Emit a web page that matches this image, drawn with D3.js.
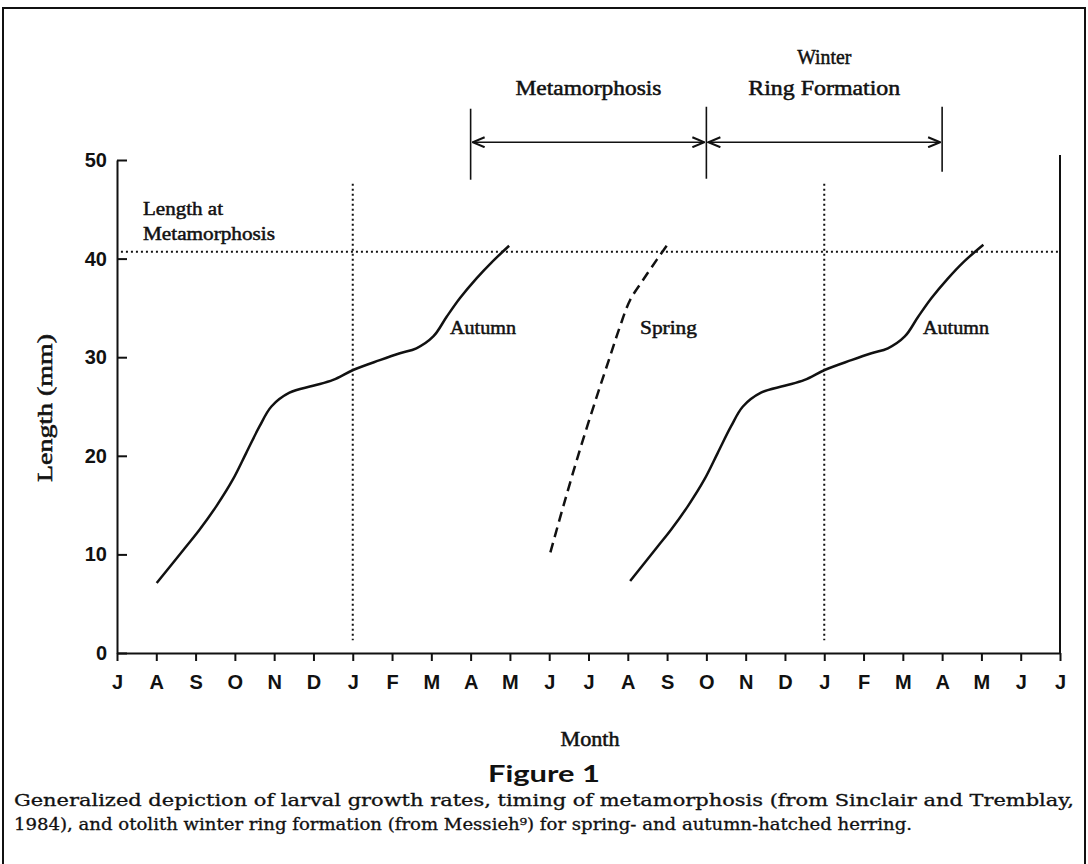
<!DOCTYPE html>
<html>
<head>
<meta charset="utf-8">
<script src="https://cdn.jsdelivr.net/npm/d3@7"></script>
<style>
  body { margin: 0; background: #fff; }
  svg { display: block; }
  .serif { font-family: "Liberation Serif", "Times New Roman", serif; fill: #111; stroke: #111; stroke-width: 0.5px; }
  .axis text { font-family: "Liberation Sans", Arial, sans-serif; font-weight: bold; font-size: 20px; fill: #111; }
  .axis path, .axis line { stroke: #111; stroke-width: 2px; }
</style>
</head>
<body>
<script>
// chart size
var width = 1088,
    height = 864;

// month tick labels, J(uly) to J(uly) two years later
var monthLabels = ["J","A","S","O","N","D","J","F","M","A","M","J",
                   "J","A","S","O","N","D","J","F","M","A","M","J","J"];
var lengthTicks = [0, 10, 20, 30, 40, 50];

// autumn-hatched larvae, first year (month index, length mm)
var autumn1Month = [1.01, 1.76, 2.10, 2.53, 2.95, 3.29, 3.63, 3.93, 4.39, 4.99, 5.50,
                    6.01, 6.69, 7.20, 7.62, 8.05, 8.39, 8.73, 9.15, 9.53, 9.98];
var autumn1Len   = [7.1, 10.8, 12.5, 14.9, 17.6, 20.3, 23.0, 25.0, 26.4, 27.1, 27.7,
                    28.7, 29.7, 30.4, 30.9, 32.1, 34.1, 36.0, 38.0, 39.6, 41.3];

// autumn-hatched larvae, second year
var autumn2Month = [13.06, 13.76, 14.10, 14.53, 14.95, 15.29, 15.63, 15.93, 16.39, 16.99, 17.50,
                    18.01, 18.69, 19.20, 19.62, 20.05, 20.39, 20.73, 21.15, 21.53, 22.05];
var autumn2Len   = [7.3, 10.8, 12.5, 14.9, 17.6, 20.3, 23.0, 25.0, 26.4, 27.1, 27.7,
                    28.7, 29.7, 30.4, 30.9, 32.1, 34.1, 36.0, 38.0, 39.6, 41.4];

// spring-hatched larvae (dashed)
var springMonth = [11.03, 11.36, 11.78, 12.21, 12.55, 12.80, 13.06, 13.40, 13.74, 13.99];
var springLen   = [10.2, 14.9, 20.6, 26.0, 30.1, 33.1, 35.8, 37.9, 39.9, 41.3];

// reference lines
var metaLength = 40.7;          // length at metamorphosis
var januaryMonths = [6, 18];    // vertical dotted lines
var januaryRange = [1.3, 47.6];

// periods shown above the plot
var periodStart = [9, 15];
var periodEnd   = [15, 21];
var periodLabels = [["Metamorphosis"], ["Winter", "Ring Formation"]];
var periodTops = [55.2, 55.4, 55.4];
var periodBottoms = [48.0, 48.1, 48.8];
var arrowLevel = 51.8;

// scales
var x = d3.scaleLinear().domain([0, 24]).range([117, 1060]);
var y = d3.scaleLinear().domain([0, 50]).range([653, 160]);

var svg = d3.select("body").append("svg")
    .attr("width", width)
    .attr("height", height);

// outer frame of the figure
svg.append("path")
    .attr("d", "M3,880 L3,8 L1085,8 L1085,880")
    .attr("fill", "none")
    .attr("stroke", "#111")
    .attr("stroke-width", 2);

// arrow heads (open chevrons)
svg.append("defs").append("marker")
    .attr("id", "chev")
    .attr("viewBox", "0 0 14 12")
    .attr("refX", 13).attr("refY", 6)
    .attr("markerWidth", 14).attr("markerHeight", 12)
    .attr("markerUnits", "userSpaceOnUse")
    .attr("orient", "auto-start-reverse")
  .append("path")
    .attr("d", "M1,1 L13,6 L1,11")
    .attr("fill", "none")
    .attr("stroke", "#111")
    .attr("stroke-width", 2);

// axes
var xAxis = d3.axisBottom(x)
    .tickValues(d3.range(0, 25))
    .tickFormat(function(d) { return monthLabels[d]; })
    .tickSizeInner(8)
    .tickSizeOuter(0)
    .tickPadding(14);

var yAxis = d3.axisLeft(y)
    .tickValues(lengthTicks)
    .tickSizeInner(-10)
    .tickSizeOuter(0)
    .tickPadding(10);

svg.append("g")
    .attr("class", "axis")
    .attr("transform", "translate(0," + y(0) + ")")
    .call(xAxis);

svg.append("g")
    .attr("class", "axis")
    .attr("transform", "translate(" + x(0) + ",0)")
    .call(yAxis);

// right border of the plot
svg.append("line")
    .attr("x1", x(24)).attr("x2", x(24))
    .attr("y1", y(50.5)).attr("y2", y(0))
    .attr("stroke", "#111").attr("stroke-width", 2);

// dotted reference lines
svg.append("line")
    .attr("x1", x(0.1)).attr("x2", x(24))
    .attr("y1", y(metaLength)).attr("y2", y(metaLength))
    .attr("stroke", "#111").attr("stroke-width", 2)
    .attr("stroke-dasharray", "2,3");

svg.selectAll(".jan")
    .data(januaryMonths)
    .enter().append("line")
    .attr("class", "jan")
    .attr("x1", function(d) { return x(d); })
    .attr("x2", function(d) { return x(d); })
    .attr("y1", y(januaryRange[1]))
    .attr("y2", y(januaryRange[0]))
    .attr("stroke", "#111").attr("stroke-width", 2)
    .attr("stroke-dasharray", "2,3");

// growth curves
var line = d3.line()
    .x(function(d) { return x(d[0]); })
    .y(function(d) { return y(d[1]); })
    .curve(d3.curveCatmullRom);

function pairs(ms, ls) {
    return ms.map(function(m, i) { return [m, ls[i]]; });
}

svg.append("path")
    .attr("d", line(pairs(autumn1Month, autumn1Len)))
    .attr("fill", "none").attr("stroke", "#111").attr("stroke-width", 2.5);

svg.append("path")
    .attr("d", line(pairs(autumn2Month, autumn2Len)))
    .attr("fill", "none").attr("stroke", "#111").attr("stroke-width", 2.5);

svg.append("path")
    .attr("d", line(pairs(springMonth, springLen)))
    .attr("fill", "none").attr("stroke", "#111").attr("stroke-width", 2.5)
    .attr("stroke-dasharray", "10,6");

// curve labels
svg.append("text").attr("class", "serif")
    .attr("x", 450).attr("y", 334).attr("font-size", 19)
    .attr("textLength", 66).attr("lengthAdjust", "spacingAndGlyphs")
    .text("Autumn");
svg.append("text").attr("class", "serif")
    .attr("x", 640).attr("y", 334).attr("font-size", 19)
    .attr("textLength", 57).attr("lengthAdjust", "spacingAndGlyphs")
    .text("Spring");
svg.append("text").attr("class", "serif")
    .attr("x", 923).attr("y", 334).attr("font-size", 19)
    .attr("textLength", 66).attr("lengthAdjust", "spacingAndGlyphs")
    .text("Autumn");

// length at metamorphosis label
svg.append("text").attr("class", "serif")
    .attr("x", 143).attr("y", 215).attr("font-size", 19)
    .attr("textLength", 80).attr("lengthAdjust", "spacingAndGlyphs")
    .text("Length at");
svg.append("text").attr("class", "serif")
    .attr("x", 143).attr("y", 240).attr("font-size", 19)
    .attr("textLength", 132).attr("lengthAdjust", "spacingAndGlyphs")
    .text("Metamorphosis");

// period separators and double arrows
svg.selectAll(".sep")
    .data([periodStart[0], periodStart[1], periodEnd[1]])
    .enter().append("line")
    .attr("class", "sep")
    .attr("x1", function(d) { return x(d); })
    .attr("x2", function(d) { return x(d); })
    .attr("y1", function(d, i) { return y(periodTops[i]); })
    .attr("y2", function(d, i) { return y(periodBottoms[i]); })
    .attr("stroke", "#111").attr("stroke-width", 1.6);

svg.selectAll(".arrow")
    .data(periodStart)
    .enter().append("line")
    .attr("class", "arrow")
    .attr("x1", function(d) { return x(d) + 2; })
    .attr("x2", function(d, i) { return x(periodEnd[i]) - 2; })
    .attr("y1", y(arrowLevel)).attr("y2", y(arrowLevel))
    .attr("stroke", "#111").attr("stroke-width", 1.6)
    .attr("marker-start", "url(#chev)")
    .attr("marker-end", "url(#chev)");

periodLabels.forEach(function(lines, i) {
    var cx = x((periodStart[i] + periodEnd[i]) / 2);
    var base = 95 - (lines.length - 1) * 31;
    lines.forEach(function(t, j) {
        svg.append("text").attr("class", "serif")
            .attr("x", cx).attr("y", base + j * 31)
            .attr("text-anchor", "middle")
            .attr("font-size", 21)
            .attr("textLength", t.length > 10 ? (t === "Metamorphosis" ? 146 : 152) : 54)
            .attr("lengthAdjust", "spacingAndGlyphs")
            .text(t);
    });
});

// axis titles
svg.append("text").attr("class", "serif")
    .attr("transform", "translate(52,408) rotate(-90)")
    .attr("text-anchor", "middle")
    .attr("font-size", 20)
    .attr("textLength", 148).attr("lengthAdjust", "spacingAndGlyphs")
    .text("Length (mm)");

svg.append("text").attr("class", "serif")
    .attr("x", 590).attr("y", 746)
    .attr("text-anchor", "middle")
    .attr("font-size", 20)
    .attr("textLength", 59).attr("lengthAdjust", "spacingAndGlyphs")
    .text("Month");

// figure caption
svg.append("text")
    .attr("x", 544).attr("y", 782)
    .attr("text-anchor", "middle")
    .attr("font-family", "Lato, 'Open Sans', sans-serif")
    .attr("font-weight", "bold")
    .attr("font-size", 22)
    .attr("fill", "#111")
    .attr("textLength", 112).attr("lengthAdjust", "spacingAndGlyphs")
    .text("Figure 1");

var caption = [
    "Generalized depiction of larval growth rates, timing of metamorphosis (from Sinclair and Tremblay,",
    "1984), and otolith winter ring formation (from Messieh⁹) for spring- and autumn-hatched herring."
];
var captionWidths = [1060, 898];

caption.forEach(function(t, i) {
    svg.append("text")
        .attr("x", 14).attr("y", 806 + i * 24)
        .attr("font-family", "'DejaVu Serif', serif")
        .attr("font-size", 16)
        .attr("fill", "#111")
        .attr("stroke", "#111").attr("stroke-width", 0.3)
        .attr("textLength", captionWidths[i]).attr("lengthAdjust", "spacingAndGlyphs")
        .text(t);
});
</script>
</body>
</html>
